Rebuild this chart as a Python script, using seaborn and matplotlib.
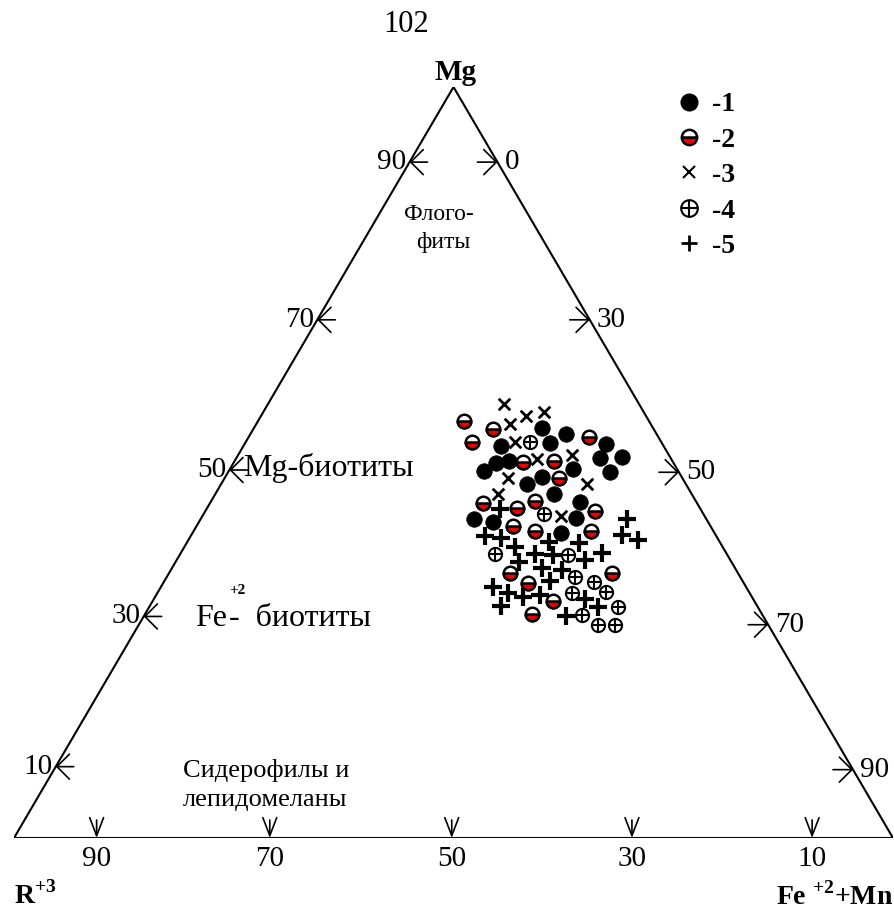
import matplotlib
matplotlib.use("Agg")
import matplotlib.pyplot as plt
import seaborn as sns
import pandas as pd
from matplotlib.lines import Line2D
from matplotlib.markers import MarkerStyle

# --- data: Mg and Fe+2+Mn content (%) per sample group ---
mg_1 = [54.6, 53.8, 52.2, 52.6, 52.5, 49.9, 50.2, 50.6, 50.7, 48.9, 49.1, 48.7,
        47.1, 48.1, 45.8, 44.7, 42.5, 42.1, 42.6, 40.6]
fe_1 = [32.8, 35.9, 29.3, 34.7, 41.1, 29.9, 31.2, 41.4, 43.8, 29.0, 39.1, 43.4,
        34.8, 36.0, 38.5, 42.0, 31.1, 33.5, 42.6, 41.9]

mg_2 = [55.5, 54.5, 52.7, 53.4, 50.1, 50.2, 47.9, 44.6, 43.9, 44.9, 43.5, 41.5,
        40.9, 40.9, 35.3, 34.0, 31.6, 29.8, 35.3]
fe_2 = [23.5, 27.2, 25.7, 38.7, 32.9, 36.3, 38.1, 31.1, 35.3, 36.8, 44.3, 36.0,
        38.8, 45.2, 38.8, 41.5, 45.5, 44.0, 50.4]

mg_3 = [57.8, 55.1, 56.2, 56.7, 52.7, 50.5, 51.0, 47.9, 47.1, 45.8, 42.9]
fe_3 = [26.8, 28.9, 30.1, 31.9, 30.6, 34.2, 38.0, 32.3, 41.6, 32.2, 40.8]

mg_4 = [52.7, 43.1, 37.8, 37.7, 34.8, 34.1, 32.8, 32.6, 29.7, 30.8, 28.4, 28.4]
fe_4 = [32.3, 38.8, 35.8, 44.2, 46.4, 48.9, 50.9, 47.2, 49.8, 53.3, 52.2, 54.2]

mg_5 = [43.8, 42.5, 40.2, 39.9, 38.7, 39.4, 39.3, 40.3, 39.7, 36.8, 37.8, 37.7,
        37.0, 37.9, 36.0, 35.7, 34.2, 33.4, 32.6, 32.1, 32.4, 30.9, 29.6, 31.8, 30.8]
fe_5 = [33.4, 48.5, 33.5, 35.4, 37.7, 41.2, 44.6, 49.0, 51.1, 39.1, 40.4, 42.5,
        46.5, 47.9, 42.1, 44.5, 43.9, 37.8, 39.9, 41.8, 43.6, 39.9, 48.0, 49.1, 51.0]

legend_labels = ["-1", "-2", "-3", "-4", "-5"]

# axis ticks as drawn on the original (positions in % Mg / % along the base)
left_tick_mg = [90, 69, 49, 29.5, 9.5]
left_tick_labels = ["90", "70", "50", "30", "10"]
right_tick_mg = [90, 69, 48.7, 28.4, 9.1]
right_tick_labels = ["0", "30", "50", "70", "90"]
base_tick_pos = [9.4, 29.1, 49.8, 70.3, 90.8]
base_tick_labels = ["90", "70", "50", "30", "10"]


def to_xy(mg, fe):
    """ternary (Mg, Fe) -> cartesian; R+3 at left, Fe+Mn at right, Mg on top"""
    return [f + m / 2 for m, f in zip(mg, fe)], list(mg)


frames = []
for grp, (mg, fe) in enumerate([(mg_1, fe_1), (mg_2, fe_2), (mg_3, fe_3),
                                (mg_4, fe_4), (mg_5, fe_5)], start=1):
    x, y = to_xy(mg, fe)
    frames.append(pd.DataFrame({"x": x, "y": y, "group": grp}))
df = pd.concat(frames, ignore_index=True)

sns.set_theme(style="white")
plt.rcParams["font.family"] = ["Liberation Serif", "DejaVu Serif"]
plt.rcParams["text.color"] = "black"
plt.rcParams["mathtext.fontset"] = "custom"
plt.rcParams["mathtext.rm"] = "Liberation Serif"
plt.rcParams["mathtext.bf"] = "Liberation Serif:bold"

W, H = 894, 917
fig = plt.figure(figsize=(W / 100, H / 100), dpi=100)
fig.patch.set_facecolor("white")
ax = fig.add_axes([14 / W, (H - 838) / H, 879 / W, 751 / H])
ax.set_xlim(0, 100)
ax.set_ylim(0, 100)
ax.set_axis_off()


def fxy(px, py):
    return px / W, 1 - py / H


# triangle
ax.plot([0, 100, 50, 0], [0, 0, 100, 0], color="black", lw=1.5, solid_joinstyle="miter")

# ticks with arrowheads
arr_side = dict(arrowstyle="->,head_length=0.9,head_width=0.9", lw=1.2, color="black",
                shrinkA=0, shrinkB=0, mutation_scale=10)
arr_base = dict(arrowstyle="->,head_length=1.3,head_width=0.5", lw=1.2, color="black",
                shrinkA=0, shrinkB=0, mutation_scale=10)
for mg, lab in zip(left_tick_mg, left_tick_labels):
    ax.annotate("", xy=(mg / 2, mg), xytext=(18, 0), textcoords="offset pixels", arrowprops=arr_side)
    ax.annotate(lab, xy=(mg / 2, mg), xytext=(-3, 0), textcoords="offset pixels",
                ha="right", va="center", fontsize=21)
for mg, lab in zip(right_tick_mg, right_tick_labels):
    ax.annotate("", xy=(100 - mg / 2, mg), xytext=(-20, 0), textcoords="offset pixels", arrowprops=arr_side)
    ax.annotate(lab, xy=(100 - mg / 2, mg), xytext=(7, 0), textcoords="offset pixels",
                ha="left", va="center", fontsize=21)
for pos, lab in zip(base_tick_pos, base_tick_labels):
    ax.annotate("", xy=(pos, 0), xytext=(0, 18), textcoords="offset pixels", arrowprops=arr_base)
    ax.annotate(lab, xy=(pos, 0), xytext=(0, -21), textcoords="offset pixels",
                ha="center", va="center", fontsize=21)

# vertex labels
ax.annotate("Mg", xy=(50, 100), xytext=(2, 15), textcoords="offset pixels",
            ha="center", va="center", fontsize=21, fontweight="bold")
ax.annotate(r"R$^{\mathbf{+3}}$", xy=(0, 0), xytext=(0, -57), textcoords="offset pixels",
            ha="left", va="center", fontsize=20, fontweight="bold")
ax.annotate(r"Fe $^{\mathbf{+2}}$+Mn", xy=(100, 0), xytext=(0, -58), textcoords="offset pixels",
            ha="right", va="center", fontsize=20, fontweight="bold")

# page number and field names
fig.text(*fxy(406, 25), "102", ha="center", va="center", fontsize=22)
fig.text(*fxy(404, 214), "Флого-", ha="left", va="center", fontsize=17)
fig.text(*fxy(416, 243), "фиты", ha="left", va="center", fontsize=17)
fig.text(*fxy(243, 468), "Mg-биотиты", ha="left", va="center", fontsize=23)
fig.text(*fxy(195, 618), "Fe", ha="left", va="center", fontsize=23)
fig.text(*fxy(237, 591), "+2", ha="center", va="center", fontsize=11, fontweight="bold")
fig.text(*fxy(229, 618), "-  биотиты", ha="left", va="center", fontsize=23)
fig.text(*fxy(183, 771), "Сидерофилы и", ha="left", va="center", fontsize=19)
fig.text(*fxy(183, 800), "лепидомеланы", ha="left", va="center", fontsize=19)

# data points
d = {g: df[df["group"] == g] for g in range(1, 6)}
sns.scatterplot(data=d[1], x="x", y="y", marker="o", s=125, color="black",
                edgecolor="black", linewidth=0.5, ax=ax, zorder=3)
sns.scatterplot(data=d[2], x="x", y="y", marker="o", s=95, color="white",
                edgecolor="black", linewidth=1.8, ax=ax, zorder=3)
sns.scatterplot(data=d[2], x="x", y="y", marker=MarkerStyle("o", fillstyle="bottom"), s=95,
                color="#ee0000", edgecolor="black", linewidth=1.8, ax=ax, zorder=4)
sns.scatterplot(data=d[3], x="x", y="y", marker="x", s=70, color="black",
                linewidth=2.0, ax=ax, zorder=3)
sns.scatterplot(data=d[4], x="x", y="y", marker="o", s=90, color="white",
                edgecolor="black", linewidth=1.5, ax=ax, zorder=3)
sns.scatterplot(data=d[4], x="x", y="y", marker="+", s=90, color="black",
                linewidth=1.5, ax=ax, zorder=4)
sns.scatterplot(data=d[5], x="x", y="y", marker="+", s=150, color="black",
                linewidth=3.0, ax=ax, zorder=3)

# legend
h1 = Line2D([], [], ls="none", marker="o", ms=12, mfc="black", mec="black")
h2 = Line2D([], [], ls="none", marker="o", ms=11, fillstyle="bottom", mfc="#ee0000",
            mfcalt="white", mec="black", mew=1.8)
h3 = Line2D([], [], ls="none", marker="x", ms=8, mec="black", mew=1.5)
h4a = Line2D([], [], ls="none", marker="o", ms=12, mfc="white", mec="black", mew=1.5)
h4b = Line2D([], [], ls="none", marker="+", ms=12, mec="black", mew=1.5)
h5 = Line2D([], [], ls="none", marker="+", ms=11, mec="black", mew=2)
fig.legend([h1, h2, h3, (h4a, h4b), h5], legend_labels, loc="upper left",
           bbox_to_anchor=fxy(661, 78), frameon=False, borderpad=0, handlelength=1.0,
           handletextpad=0.35, labelspacing=0.36,
           prop={"family": "Liberation Serif", "weight": "bold", "size": 20})

fig.savefig("out.png", dpi=100, facecolor="white")
